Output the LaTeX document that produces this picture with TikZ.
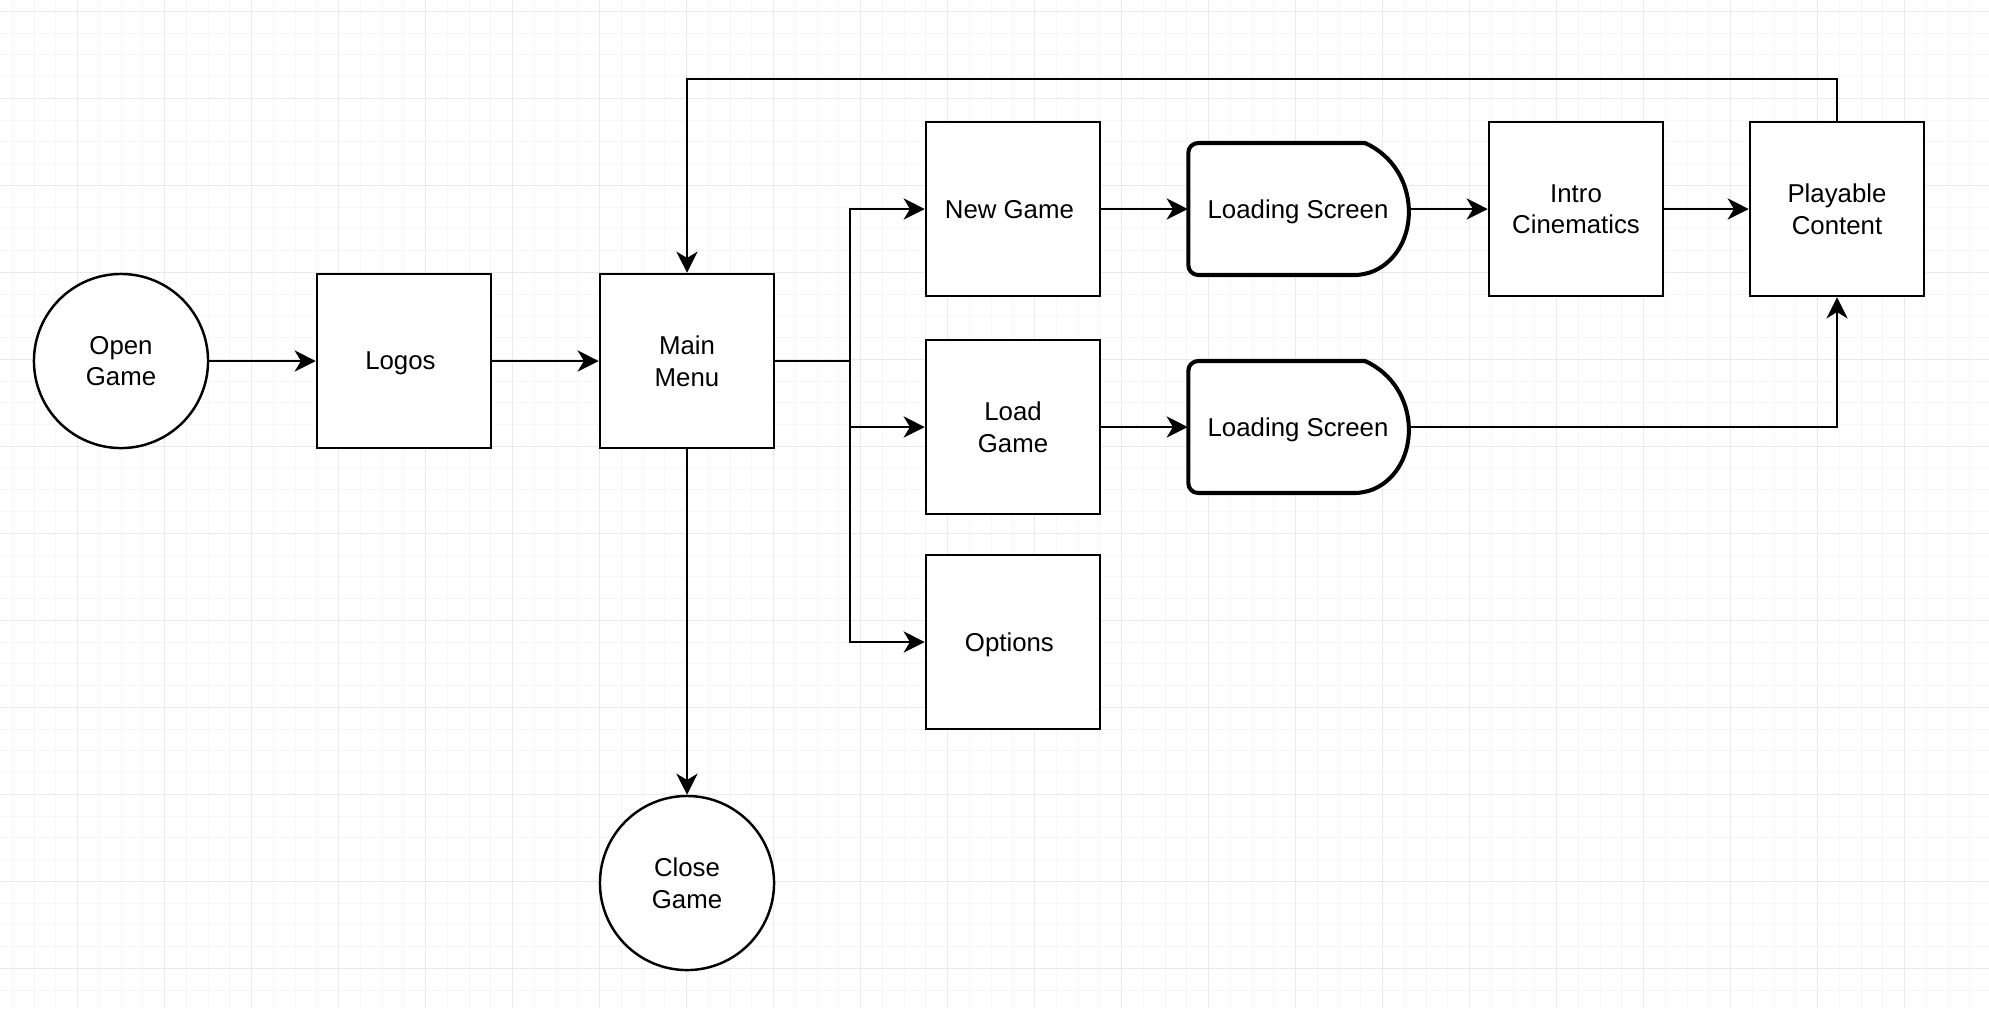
\documentclass[tikz,border=0pt]{standalone}
\usepackage{fontspec}
\setmainfont{Liberation Sans}
\usetikzlibrary{arrows.meta}

\tikzset{
	stage/.style={draw, rectangle, line width=0.7pt, minimum size=1.74cm, inner sep=0pt, align=center, fill=white, text depth=0pt},
	endpoint/.style={draw, circle, line width=0.7pt, minimum size=1.74cm, inner sep=0pt, align=center, fill=white, text depth=0pt},
	loading/.style={rectangle, minimum width=2.19cm, minimum height=1.32cm, inner sep=0pt, text depth=0pt},
	loadline/.style={draw, line width=1.15pt, fill=white},
	flow/.style={-{Stealth[length=6pt, width=6pt, inset=1.8pt]}, line width=0.7pt},
	minorgrid/.style={line width=0.28pt, gray!6},
	majorgrid/.style={line width=0.3pt, gray!17}
}

\begin{document}
\begin{tikzpicture}[x=0.01cm, y=-0.01cm, font=\fontsize{7.34pt}{9pt}\selectfont]
			\useasboundingbox[fill=white] (0,0) rectangle (1989,1008);
			\foreach \gx in {0,...,90} \draw[minorgrid] (12.45+21.75*\gx,0) -- (12.45+21.75*\gx,1008);
			\foreach \gy in {0,...,45} \draw[minorgrid] (0,11.3+21.75*\gy) -- (1989,11.3+21.75*\gy);
			\foreach \gx in {0,...,22} \draw[majorgrid] (77.7+87*\gx,0) -- (77.7+87*\gx,1008);
			\foreach \gy in {0,...,11} \draw[majorgrid] (0,11.3+87*\gy) -- (1989,11.3+87*\gy);

			\node[endpoint] (open) at ( 121, 361 ) { Open\\Game };
			\node[stage] (logos) at ( 404, 361 ) { Logos };
			\node[stage] (menu) at ( 687, 361 ) { Main\\Menu };
			\node[endpoint] (close) at ( 687, 883 ) { Close\\Game };
			\node[stage] (new) at ( 1013, 209 ) { New Game };
			\node[stage] (load) at ( 1013, 427 ) { Load\\Game };
			\node[stage] (options) at ( 1013, 642 ) { Options };

			\coordinate (ls1c) at ( 1298, 209 );
			\coordinate (ls2c) at ( 1298, 427 );
			\foreach \c in {ls1c, ls2c}
				\draw[loadline] ([shift={(67,-66)}]\c) [rounded corners=2.8pt] -- ([shift={(-109.7,-66)}]\c) -- ([shift={(-109.7,66)}]\c) -- ([shift={(67,66)}]\c) [sharp corners] .. controls ([shift={(123.9,40.4)}]\c) and ([shift={(123.9,-40.4)}]\c) .. cycle;
			\node[loading] (screen1) at (ls1c) { Loading Screen };
			\node[loading] (screen2) at (ls2c) { Loading Screen };

			\node[stage] (intro) at ( 1576, 209 ) { Intro\\Cinematics };
			\node[stage] (play) at ( 1837, 209 ) { Playable\\Content };

			\coordinate (split) at ( 850, 361 );
			\coordinate (top) at ( 0, 79 );

			\draw[flow] (open) -- (logos);
			\draw[flow] (logos) -- (menu);
			\draw[flow] (menu) -- (close);
			\draw[flow] (menu.east) -- (split) |- (new.west);
			\draw[flow] (menu.east) -- (split) |- (load.west);
			\draw[flow] (menu.east) -- (split) |- (options.west);
			\draw[flow] (new) -- (screen1);
			\draw[flow] (screen1) -- (intro);
			\draw[flow] (intro) -- (play);
			\draw[flow] (load) -- (screen2);
			\draw[flow] (screen2.east) -| (play.south);
			\draw[flow] (play.north) -- (play.north |- top) -| (menu.north);
		\end{tikzpicture}
\end{document}
